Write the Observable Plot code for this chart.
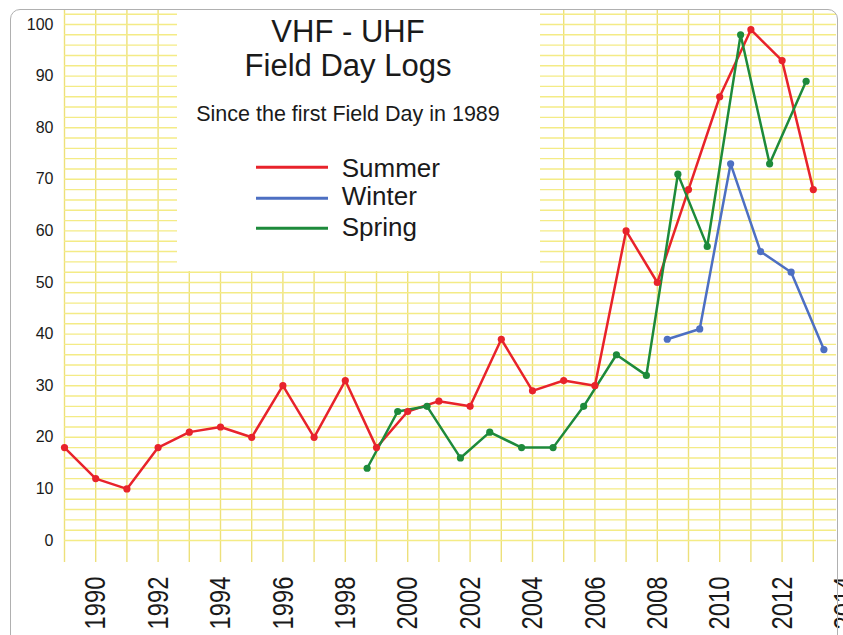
<!DOCTYPE html>
<html>
<head>
<meta charset="utf-8">
<script src="https://cdn.jsdelivr.net/npm/d3@7"></script>
<script src="https://cdn.jsdelivr.net/npm/@observablehq/plot@0.6"></script>
<style>
  body { margin: 0; background: #fff; }
  #wrap { position: relative; width: 843px; height: 635px; overflow: hidden; font-family: "Liberation Sans", Arial, sans-serif; }
  #chart { position: absolute; left: 0; top: 0; }
  #legend { position: absolute; left: 177px; top: 9px; }
  #frame { position: absolute; left: 10px; top: 9px; width: 828px; height: 700px; border: 1.5px solid #b0b0b0; border-radius: 10px; box-sizing: border-box; pointer-events: none; }
</style>
</head>
<body>
<div id="wrap">
  <div id="chart"></div>
  <svg id="legend" width="363" height="262" font-family="Liberation Sans, Arial, sans-serif" fill="#1a1a1a">
    <rect width="363" height="262" fill="#fff"></rect>
    <text x="171" y="32.7" text-anchor="middle" font-size="31">VHF - UHF</text>
    <text x="171" y="67" text-anchor="middle" font-size="31">Field Day Logs</text>
    <text x="171" y="111.7" text-anchor="middle" font-size="21.5">Since the first Field Day in 1989</text>
    <line x1="79" x2="151" y1="158.3" y2="158.3" stroke="#e8232b" stroke-width="3"></line>
    <line x1="79" x2="151" y1="189.3" y2="189.3" stroke="#4d6fc2" stroke-width="3"></line>
    <line x1="79" x2="151" y1="219.3" y2="219.3" stroke="#1d8a3b" stroke-width="3"></line>
    <text x="164.7" y="167.7" font-size="26">Summer</text>
    <text x="164.7" y="196" font-size="26">Winter</text>
    <text x="164.7" y="227" font-size="26">Spring</text>
  </svg>
  <div id="frame"></div>
</div>
<script>
// ---- data ----
const summerYears = [1989,1990,1991,1992,1993,1994,1995,1996,1997,1998,1999,2000,2001,2002,2003,2004,2005,2006,2007,2008,2009,2010,2011,2012,2013];
const summerValues = [18,12,10,18,21,22,20,30,20,31,18,25,27,26,39,29,31,30,60,50,68,86,99,93,68];

const winterX = [2008.32,2009.36,2010.35,2011.31,2012.29,2013.34];
const winterValues = [39,41,73,56,52,37];

const springX = [1998.7,1999.68,2000.62,2001.69,2002.63,2003.65,2004.66,2005.64,2006.69,2007.65,2008.66,2009.6,2010.67,2011.6,2012.77];
const springValues = [14,25,26,16,21,18,18,26,36,32,71,57,98,73,89];

const xTicks = [1990,1992,1994,1996,1998,2000,2002,2004,2006,2008,2010,2012,2014];
const yTicks = [0,10,20,30,40,50,60,70,80,90,100];

const colors = { Summer: "#e8232b", Winter: "#4d6fc2", Spring: "#1d8a3b" };

const summer = summerYears.map((x, i) => ({ x, v: summerValues[i] }));
const winter = winterX.map((x, i) => ({ x, v: winterValues[i] }));
const spring = springX.map((x, i) => ({ x, v: springValues[i] }));

const font = "Liberation Sans, Arial, sans-serif";

const chart = Plot.plot({
  width: 843,
  height: 635,
  marginLeft: 64,
  marginRight: 0,
  marginTop: 24,
  marginBottom: 95,
  x: { domain: [1989, 2014], range: [64, 844] },
  y: { domain: [0, 100] },
  style: { fontFamily: font, background: "transparent", color: "#1a1a1a", overflow: "visible" },
  marks: [
    Plot.gridX(d3.range(1989, 2014), { stroke: "#ede07a", strokeOpacity: 1, strokeWidth: 1.4, insetTop: -14, insetBottom: -22 }),
    Plot.gridY(d3.range(0, 103, 2), { stroke: "#f4eb86", strokeOpacity: 1, strokeWidth: 1.4, insetRight: 7 }),
    Plot.line(summer, { x: "x", y: "v", stroke: colors.Summer, strokeWidth: 2.5, strokeLinejoin: "round" }),
    Plot.line(spring, { x: "x", y: "v", stroke: colors.Spring, strokeWidth: 2.5, strokeLinejoin: "round" }),
    Plot.line(winter, { x: "x", y: "v", stroke: colors.Winter, strokeWidth: 2.5, strokeLinejoin: "round" }),
    Plot.dot(summer, { x: "x", y: "v", fill: colors.Summer, r: 3.6 }),
    Plot.dot(spring, { x: "x", y: "v", fill: colors.Spring, r: 3.6 }),
    Plot.dot(winter, { x: "x", y: "v", fill: colors.Winter, r: 3.6 }),
    Plot.axisY(yTicks, { tickSize: 0, tickPadding: 11, fontSize: 16, label: null }),
    Plot.axisX(xTicks, { tickSize: 0, tickPadding: 36, tickRotate: -90, fontSize: 30, tickFormat: d => String(d), label: null })
  ]
});
document.getElementById("chart").appendChild(chart);
// condense the rotated year labels (narrow face in the reference)
const yearLabels = new Set(xTicks.map(String));
chart.querySelectorAll("text").forEach(t => {
  if (yearLabels.has(t.textContent.trim())) {
    t.setAttribute("textLength", "53");
    t.setAttribute("lengthAdjust", "spacingAndGlyphs");
  }
});
</script>
</body>
</html>
